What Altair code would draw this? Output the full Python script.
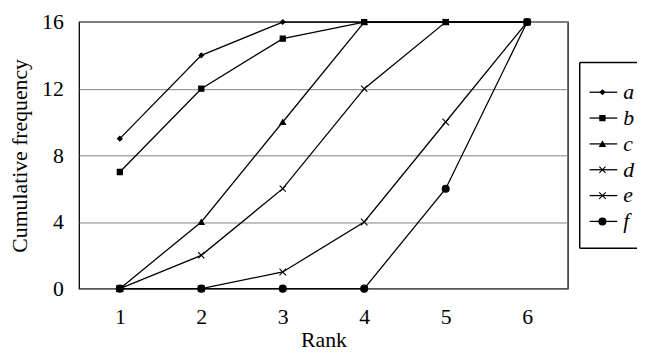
import altair as alt
import pandas as pd

ranks = [1, 2, 3, 4, 5, 6]
series_names = ["a", "b", "c", "d", "e", "f"]
a_vals = [9, 14, 16, 16, 16, 16]
b_vals = [7, 12, 15, 16, 16, 16]
c_vals = [0, 4, 10, 16, 16, 16]
d_vals = [0, 2, 6, 12, 16, 16]
e_vals = [0, 0, 1, 4, 10, 16]
f_vals = [0, 0, 0, 0, 6, 16]
y_ticks = [0, 4, 8, 12, 16]

all_vals = [a_vals, b_vals, c_vals, d_vals, e_vals, f_vals]
rows = []
for name, vals in zip(series_names, all_vals):
    for r, v in zip(ranks, vals):
        rows.append({"series": name, "rank": r, "freq": v})
df = pd.DataFrame(rows)
leg_df = pd.DataFrame({"series": series_names})
box_df = pd.DataFrame({"k": [0]})

XPATH = "M-1,-1L1,1M-1,1L1,-1"
shape_scale = alt.Scale(domain=series_names,
                        range=["diamond", "square", "triangle-up", XPATH, XPATH, "circle"])
size_scale = alt.Scale(domain=series_names, range=[22, 50, 45, 40, 30, 50])

FONT = "Liberation Serif"

x_enc = alt.X("rank:Q", scale=alt.Scale(domain=[0.5, 6.5], nice=False),
              axis=alt.Axis(values=ranks, format="d", grid=False, ticks=False, domain=False,
                            labelPadding=18, title="Rank", titlePadding=3))
y_enc = alt.Y("freq:Q", scale=alt.Scale(domain=[0, 16], nice=False),
              axis=alt.Axis(values=y_ticks, format="d", grid=True, gridColor="#808080",
                            ticks=False, domain=False, labelPadding=16,
                            title="Cumulative frequency", titlePadding=10))

lines = alt.Chart(df).mark_line(color="black", strokeWidth=1.3).encode(
    x=x_enc, y=y_enc, detail="series:N", order="rank:Q")

points = alt.Chart(df).mark_point(filled=True, color="black", stroke="black",
                                  strokeWidth=1.1, opacity=1).encode(
    x="rank:Q", y="freq:Q",
    shape=alt.Shape("series:N", scale=shape_scale, legend=None),
    size=alt.Size("series:N", scale=size_scale, legend=None))

main = alt.layer(lines, points)

leg_y = alt.Y("series:N", scale=alt.Scale(type="point", domain=series_names, range=[58, 215]),
              axis=None)

base_box = alt.Chart(box_df)
box = base_box.mark_rect(fill="white", strokeWidth=0).encode(
    x=alt.value(507), x2=alt.value(680), y=alt.value(41), y2=alt.value(229))
box_top = base_box.mark_rule(color="black", strokeWidth=1.5).encode(
    x=alt.value(507), x2=alt.value(680), y=alt.value(41))
box_bottom = base_box.mark_rule(color="black", strokeWidth=1.5).encode(
    x=alt.value(507), x2=alt.value(680), y=alt.value(229))
box_left = base_box.mark_rule(color="black", strokeWidth=1.5).encode(
    x=alt.value(507), y=alt.value(41), y2=alt.value(229))

leg_lines = alt.Chart(leg_df).mark_rule(color="black", strokeWidth=1.3).encode(
    x=alt.value(517), x2=alt.value(545), y=leg_y)

leg_pts = alt.Chart(leg_df).mark_point(filled=True, color="black", stroke="black",
                                       strokeWidth=1.1, opacity=1).encode(
    x=alt.value(530), y=leg_y,
    shape=alt.Shape("series:N", scale=shape_scale, legend=None),
    size=alt.Size("series:N", scale=size_scale, legend=None))

leg_text = alt.Chart(leg_df).mark_text(align="left", baseline="middle", font=FONT,
                                       fontSize=22, fontStyle="italic", color="black").encode(
    x=alt.value(551), y=leg_y, text="series:N")

legend = alt.layer(box, box_top, box_bottom, box_left, leg_lines, leg_pts, leg_text)

chart = alt.layer(main, legend).resolve_scale(
    y="independent"
).properties(
    width=495, height=270,
    autosize=alt.AutoSizeParams(type="none"),
    padding={"left": 72, "top": 12, "right": 70, "bottom": 66},
).configure_view(stroke="black", strokeWidth=1.3).configure_axis(
    labelFont=FONT, labelFontSize=22, labelColor="black",
    titleFont=FONT, titleFontSize=22, titleFontWeight="normal", titleColor="black",
)

chart.save("out.html", embed_options={"renderer": "svg", "actions": False})
